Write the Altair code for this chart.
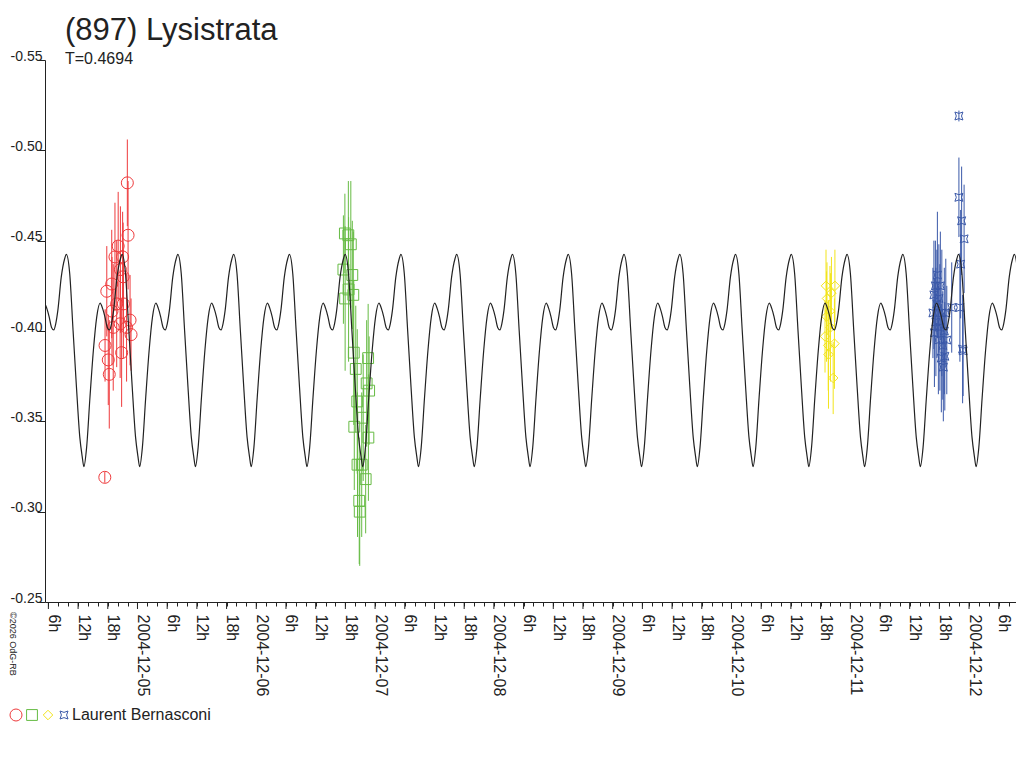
import pandas as pd
import altair as alt

FONT = "Liberation Sans"
INK = "#222222"

# period of the fitted lightcurve (days) and epoch of one main maximum
period_days = 0.4694
epoch = "2004-12-07 16:29"

# one period of the fitted curve (phase from main maximum)
fit_phase = [0.0, 0.061, 0.121, 0.182, 0.242, 0.285, 0.315, 0.364, 0.424, 0.485,
             0.545, 0.606, 0.65, 0.691, 0.735, 0.776, 0.81, 0.848, 0.909, 0.970]
fit_mag = [-0.4424, -0.4317, -0.4003, -0.3689, -0.3411, -0.3305, -0.3249, -0.3356, -0.3633, -0.3892,
           -0.4077, -0.4154, -0.4125, -0.4080, -0.4020, -0.4006, -0.4040, -0.4114, -0.4298, -0.4400]

# session 1, 2004-12-04 (hours, magnitude, error)
s1_date = "2004-12-04"
s1_hours = [17.4, 17.45, 17.8, 18.1, 18.3, 18.8, 18.85, 19.1, 19.45, 19.8, 20.1,
            20.5, 20.55, 20.8, 21.0, 21.1, 21.15, 21.8, 21.95, 22.1, 22.5, 22.7]
s1_mag = [-0.319, -0.392, -0.422, -0.384, -0.376, -0.426, -0.411, -0.402, -0.441, -0.415, -0.447,
          -0.404, -0.434, -0.388, -0.441, -0.430, -0.415, -0.402, -0.482, -0.453, -0.406, -0.398]
s1_err = [0.003, 0.02, 0.025, 0.025, 0.03, 0.03, 0.03, 0.035, 0.03, 0.035, 0.03,
          0.03, 0.035, 0.03, 0.025, 0.03, 0.03, 0.03, 0.024, 0.03, 0.025, 0.02]

# session 2, 2004-12-06
s2_date = "2004-12-06"
s2_hours = [17.6, 17.9, 17.95, 18.6, 18.65, 19.1, 19.4, 19.6, 19.7, 19.8, 20.1,
            20.4, 20.45, 20.8, 20.9, 21.3, 21.6, 22.1, 22.3, 22.6, 22.65, 22.8]
s2_mag = [-0.434, -0.454, -0.418, -0.453, -0.423, -0.448, -0.431, -0.420, -0.388, -0.347, -0.379,
          -0.361, -0.326, -0.306, -0.300, -0.326, -0.352, -0.318, -0.371, -0.385, -0.341, -0.367]
s2_err = [0.03, 0.022, 0.04, 0.03, 0.04, 0.035, 0.03, 0.035, 0.04, 0.035, 0.035,
          0.04, 0.04, 0.035, 0.03, 0.04, 0.035, 0.03, 0.035, 0.03, 0.035, 0.03]

# session 3, 2004-12-10
s3_date = "2004-12-10"
s3_hours = [18.9, 19.1, 19.2, 19.3, 19.55, 19.6, 19.9, 20.0, 20.2, 20.55, 20.8, 20.9]
s3_mag = [-0.397, -0.425, -0.408, -0.418, -0.392, -0.387, -0.411, -0.402, -0.421, -0.374, -0.393, -0.425]
s3_err = [0.02, 0.02, 0.025, 0.02, 0.025, 0.03, 0.025, 0.03, 0.02, 0.02, 0.025, 0.02]

# session 4, 2004-12-11
s4_date = "2004-12-11"
s4_hours = [16.7, 16.9, 17.0, 17.2, 17.3, 17.5, 17.6, 17.8, 17.9, 18.1, 18.2, 18.4, 18.5, 18.7,
            18.8, 19.0, 19.1, 19.3, 19.5, 20.5, 21.95, 21.95, 22.15, 22.3, 22.5, 22.7, 22.8, 23.0]
s4_mag = [-0.410, -0.420, -0.399, -0.425, -0.405, -0.415, -0.431, -0.395, -0.418, -0.402, -0.425,
          -0.385, -0.410, -0.392, -0.380, -0.400, -0.386, -0.410, -0.395, -0.413, -0.519, -0.474,
          -0.413, -0.437, -0.461, -0.390, -0.389, -0.451]
s4_err = [0.025, 0.03, 0.03, 0.025, 0.03, 0.03, 0.035, 0.03, 0.03, 0.035, 0.03, 0.03, 0.035, 0.03,
          0.03, 0.035, 0.03, 0.03, 0.03, 0.025, 0.003, 0.022, 0.03, 0.03, 0.03, 0.03, 0.025, 0.03]

sessions = ["s1", "s2", "s3", "s4"]
session_colors = ["#ee3a3c", "#66bb44", "#f2e41c", "#3a58a8"]
astroid = "M-1,-1Q0,-0.3,1,-1Q0.3,0,1,1Q0,0.3,-1,1Q-0.3,0,-1,-1Z"
session_shapes = ["circle", "square", "diamond", astroid]
session_sizes = [144, 64, 100, 81]
observer = "Laurent Bernasconi"
credit_text = "\u00a92026 OdG-RB"

x_start = pd.Timestamp("2004-12-04 05:19")
x_end = pd.Timestamp("2004-12-12 09:29")


def session_frame(name, date, hours, mag, err):
    df = pd.DataFrame({"hours": hours, "mag": mag, "err": err})
    df["time"] = pd.Timestamp(date) + pd.to_timedelta(df["hours"], unit="h")
    df["lo"] = df["mag"] - df["err"]
    df["hi"] = df["mag"] + df["err"]
    df["session"] = name
    return df


obs = pd.concat([
    session_frame("s1", s1_date, s1_hours, s1_mag, s1_err),
    session_frame("s2", s2_date, s2_hours, s2_mag, s2_err),
    session_frame("s3", s3_date, s3_hours, s3_mag, s3_err),
    session_frame("s4", s4_date, s4_hours, s4_mag, s4_err),
], ignore_index=True)

# repeat the single-period profile over the whole time span
rows = []
for k in range(-9, 12):
    for ph, m in zip(fit_phase, fit_mag):
        rows.append({"time": pd.Timestamp(epoch) + pd.Timedelta(days=(k + ph) * period_days), "mag": m})
fit = pd.DataFrame(rows)
fit = fit[(fit["time"] > x_start - pd.Timedelta(hours=6)) &
          (fit["time"] < x_end + pd.Timedelta(hours=6))].reset_index(drop=True)


def dt(ts):
    return alt.DateTime(year=ts.year, month=ts.month, date=ts.day, hours=ts.hour, minutes=ts.minute)


# minor ticks every two hours, longer ticks every six hours
tick_times = pd.date_range("2004-12-04 06:00", "2004-12-12 08:00", freq="2h")
tick_values = [dt(t) for t in tick_times]
major_ticks = pd.DataFrame({"time": pd.date_range("2004-12-04 06:00", "2004-12-12 06:00", freq="6h")})

x_scale = alt.Scale(domain=[dt(x_start), dt(x_end)], nice=False)
y_scale = alt.Scale(domain=[-0.55, -0.25], reverse=True, nice=False, zero=False)

x_axis = alt.Axis(
    title=None, grid=False,
    values=tick_values, tickCount=500,
    tickSize=4,
    tickColor=INK, domainColor=INK,
    labelExpr="hours(datum.value) == 0 ? timeFormat(datum.value, '%Y-%m-%d') : "
              "(hours(datum.value) % 6 == 0 ? hours(datum.value) + 'h' : '')",
    labelAngle=90, labelAlign="left", labelBaseline="alphabetic",
    labelPadding=8, labelFontSize=16, labelFont=FONT, labelColor=INK,
    labelOverlap=False, labelFlush=False,
)
y_axis = alt.Axis(
    title=None, grid=False,
    values=[-0.55, -0.50, -0.45, -0.40, -0.35, -0.30, -0.25], format=".2f",
    labelExpr="replace(datum.label, '\u2212', '-')",
    tickSize=8, tickColor=INK, domainColor=INK,
    labelFontSize=14, labelFont=FONT, labelColor=INK,
    labelBaseline="alphabetic", labelPadding=-5,
)

legend = alt.Legend(
    title=None, orient="none", legendX=-37, legendY=647, direction="horizontal",
    symbolSize=100, symbolStrokeWidth=1,
    labelOffset=0, columnPadding=-9, labelFontSize=16, labelFont=FONT, labelColor=INK,
    labelExpr="datum.label == 's4' ? '\u00a0\u00a0\u00a0\u00a0" + observer + "' : ''",
)

# error bars, one layer per observing session
err_layers = [
    alt.Chart(obs[obs["session"] == s]).mark_rule(strokeWidth=1, color=c).encode(
        x="time:T", y="lo:Q", y2="hi:Q"
    )
    for s, c in zip(sessions, session_colors)
]

points = alt.Chart(obs).mark_point(filled=False, strokeWidth=1, opacity=1).encode(
    x=alt.X("time:T", scale=x_scale, axis=x_axis),
    y=alt.Y("mag:Q", scale=y_scale, axis=y_axis),
    color=alt.Color("session:N", scale=alt.Scale(domain=sessions, range=session_colors), legend=legend),
    shape=alt.Shape("session:N", scale=alt.Scale(domain=sessions, range=session_shapes), legend=legend),
    size=alt.Size("session:N", scale=alt.Scale(domain=sessions, range=session_sizes), legend=None),
)

curve = alt.Chart(fit).mark_line(color=INK, strokeWidth=1.2, interpolate="monotone", clip=True).encode(
    x="time:T",
    y="mag:Q",
)

# the six-hourly ticks hang a little lower than the two-hourly ones
long_ticks = alt.Chart(major_ticks).mark_rule(color=INK, strokeWidth=1).encode(
    x="time:T",
    y=alt.value(542),
    y2=alt.value(549),
)

credit = alt.Chart(pd.DataFrame({"t": [credit_text]})).mark_text(
    angle=90, align="left", baseline="middle", fontSize=9, font=FONT, color=INK
).encode(text="t:N", x=alt.value(-32), y=alt.value(552))

chart = alt.layer(points, *err_layers, curve, long_ticks, credit).properties(
    width=971, height=542,
    autosize="none",
    padding={"left": 37, "top": 52, "right": 0, "bottom": 150},
    title=alt.TitleParams(
        "(897) Lysistrata", subtitle="T=0.4694", anchor="start", frame="group", dx=20, offset=-19,
        fontSize=31, font=FONT, fontWeight="normal", color=INK,
        subtitleFontSize=16, subtitleFont=FONT, subtitleColor=INK, subtitlePadding=4,
    ),
).configure_view(stroke=None)

chart.save("out.html", embed_options={"renderer": "svg", "actions": False})
